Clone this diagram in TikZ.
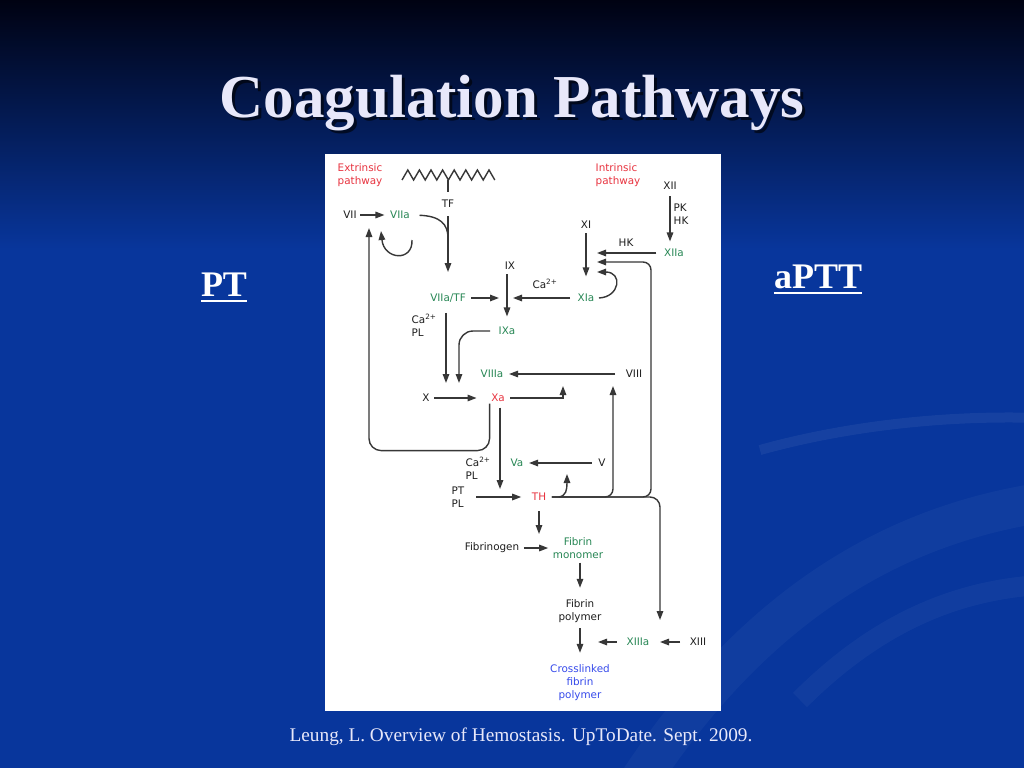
\documentclass[tikz,border=0pt]{standalone}
\usepackage{fontspec}
\setmainfont{Liberation Serif}
\newfontfamily\chartfont{DejaVu Sans}
\usetikzlibrary{arrows.meta}

\definecolor{slidetop}{RGB}{0,2,18}
\definecolor{slideblue}{RGB}{8,54,156}
\definecolor{titlewhite}{RGB}{232,232,250}
\definecolor{actgreen}{RGB}{40,135,85}
\definecolor{keyred}{RGB}{232,52,64}
\definecolor{endblue}{RGB}{55,75,235}
\definecolor{linegray}{RGB}{55,55,55}
\definecolor{labelblack}{RGB}{30,30,30}

\tikzset{
  lbl/.style={font=\chartfont\fontsize{10.4}{13}\selectfont, inner sep=1.5pt, align=center, text=labelblack},
  act/.style={lbl, text=actgreen},
  key/.style={lbl, text=keyred},
  arr/.style={draw=linegray, line width=1.4pt, -{Triangle[length=9pt,width=6.5pt]}},
  ln/.style={draw=linegray, line width=1.4pt},
  slidehead/.style={font=\fontsize{36}{40}\selectfont\bfseries, text=white, anchor=base, inner sep=0pt}
}

\begin{document}
\begin{tikzpicture}[x=1pt,y=-1pt]
    \useasboundingbox (0,0) rectangle (1024,768);

    % slide background
    \shade[top color=slidetop, bottom color=slideblue] (0,0) rectangle (1024,250);
    \fill[slideblue] (0,250) rectangle (1024,768);
    \draw[white, opacity=0.035, line width=40pt] (640,780) .. controls (760,600) and (900,520) .. (1060,500);
    \draw[white, opacity=0.06, line width=10pt] (760,450) .. controls (850,425) and (950,415) .. (1040,418);
    \draw[white, opacity=0.04, line width=20pt] (800,700) .. controls (880,620) and (960,590) .. (1040,585);

    \node[font=\fontsize{61}{70}\selectfont\bfseries, text=black, opacity=0.6, anchor=base] (titleshade) at (515,120) {Coagulation Pathways};
    \node[font=\fontsize{61}{70}\selectfont\bfseries, text=titlewhite, anchor=base] (title) at (512,117) {Coagulation Pathways};

    \node[slidehead] (pt) at (224,296) {PT};
    \draw[white, line width=2pt] ([yshift=-5pt]pt.base west) -- ([yshift=-5pt]pt.base east);
    \node[slidehead] (aptt) at (818,288) {aPTT};
    \draw[white, line width=2pt] ([yshift=-5pt]aptt.base west) -- ([yshift=-5pt]aptt.base east);

    \node[font=\fontsize{19.3}{22}\selectfont, text=titlewhite, anchor=base] (source) at (521,741) {Leung, L. Overview of Hemostasis. UpToDate. Sept. 2009.};

    % figure panel
    \fill[white] (325,154) rectangle (721,711);

    \node[key, align=left, anchor=west] (extr) at (336,175.5) {Extrinsic\\pathway};
    \node[key, align=left, anchor=west] (intr) at (594,175.5) {Intrinsic\\pathway};
    \node[lbl] (tf) at (448,204) {TF};
    \node[lbl] (vii) at (350,215) {VII};
    \node[act] (viia) at (400,215) {VIIa};
    \node[lbl] (ix) at (510,266) {IX};
    \node[act] (viiatf) at (448,298) {VIIa/TF};
    \node[lbl] (ca1) at (545,284) {Ca\textsuperscript{2+}};
    \node[act] (xia) at (586,298) {XIa};
    \node[lbl] (xi) at (586,225) {XI};
    \node[lbl] (xii) at (670,186) {XII};
    \node[lbl, align=left, anchor=west] (pkhk) at (672,214) {PK\\HK};
    \node[act] (xiia) at (674,253) {XIIa};
    \node[lbl] (hk) at (626,243) {HK};
    \node[lbl, align=left, anchor=west] (capl1) at (410,325) {Ca\textsuperscript{2+}\\PL};
    \node[act] (ixa) at (507,331) {IXa};
    \node[act] (viiia) at (492,374) {VIIIa};
    \node[lbl] (viii) at (634,374) {VIII};
    \node[lbl] (x) at (426,398) {X};
    \node[key] (xa) at (498,398) {Xa};
    \node[lbl, align=left, anchor=west] (capl2) at (464,468.5) {Ca\textsuperscript{2+}\\PL};
    \node[act] (va) at (517,463) {Va};
    \node[lbl] (v) at (602,463) {V};
    \node[lbl, align=left, anchor=west] (ptpl) at (450,497.5) {PT\\PL};
    \node[key] (th) at (539,497) {TH};
    \node[lbl] (fibrinogen) at (492,548) {Fibrinogen};
    \node[act] (fibmono) at (578,548.5) {Fibrin\\monomer};
    \node[lbl] (fibpoly) at (580,611) {Fibrin\\polymer};
    \node[act] (xiiia) at (638,642) {XIIIa};
    \node[lbl] (xiii) at (698,642) {XIII};
    \node[lbl, text=endblue] (cross) at (580,682.5) {Crosslinked\\fibrin\\polymer};

    \coordinate (memb) at (448,180);
    \coordinate (tfjoin) at (448,238);
    \coordinate (viialoop) at (412,240);
    \coordinate (viiaup) at (381,231);
    \coordinate (viiup) at (369,228);
    \coordinate (ixj) at (507,298);
    \coordinate (xij1) at (586,253);
    \coordinate (xij2) at (586,262);
    \coordinate (xij3) at (597,272);
    \coordinate (xj1) at (446,398);
    \coordinate (xj2) at (459,398);
    \coordinate (viiij1) at (563,374);
    \coordinate (viiij2) at (613,374);
    \coordinate (thloop) at (567,474);
    \coordinate (thj) at (500,497);
    \coordinate (crossj) at (580,642);
    \coordinate (xiiij) at (660,642);

    % membrane
    \draw[ln, line join=miter] (402,180) \foreach \k in {1,...,8} { -- ++(5.8,-10) -- ++(5.8,10) };
    \draw[ln, shorten >=7pt] (memb) -- (tf.north);

    % extrinsic
    \draw[arr, shorten <=2pt, shorten >=4pt] (vii) -- (viia);
    \draw[arr, shorten <=7pt, shorten >=20pt] (tf) -- (viiatf);
    \draw[ln, shorten <=8pt] (viia.east) .. controls (440,216) and (448,224) .. (tfjoin);
    \draw[arr] (viialoop) .. controls (413,262) and (384,260) .. (viiaup);
    \draw[arr, rounded corners=12pt] (xa.south west) -- ++(0,47) -| (viiup);
    \draw[arr, shorten <=4pt, shorten >=8pt] (viiatf) -- (ixj);
    \draw[arr, shorten <=9pt, shorten >=15pt] (viiatf.south -| xj1) -- (xj1);

    % intrinsic
    \draw[arr, shorten <=5pt, shorten >=6pt] (xii) -- (xii |- xiia.north);
    \draw[arr, shorten <=6pt, shorten >=11pt] (xiia) -- (xij1);
    \draw[arr, shorten <=3pt, shorten >=16pt] (xi) -- (xia);
    \draw[arr] ([xshift=3pt]xia.east) .. controls (620,297) and (623,272) .. (xij3);
    \draw[arr, shorten <=6pt, shorten >=6pt] (xia) -- (ixj);
    \draw[arr, shorten <=3pt, shorten >=9pt] (ix.south -| ixj) -- (ixj |- ixa.north);
    \draw[arr, rounded corners=14pt, shorten <=7pt, shorten >=15pt] (ixa.west) -| (xj2);
    \draw[arr, shorten <=9pt, shorten >=4pt] (viii) -- (viiia);

    % common
    \draw[arr, shorten <=3pt, shorten >=13pt] (x) -- (xa);
    \draw[arr, shorten <=4pt, shorten >=12pt] (xa.east) -| (viiij1);
    \draw[arr, shorten <=4pt, shorten >=8pt] (xa.south -| thj) -- (thj);
    \draw[arr, shorten <=5pt, shorten >=4pt] (v) -- (va);
    \draw[arr, shorten <=10pt, shorten >=9pt] (ptpl.east |- th) -- (th);
    \draw[arr] ([xshift=11pt]th.east) .. controls (566,496) and (567,490) .. (thloop);
    \draw[arr, rounded corners=8pt, shorten <=4pt, shorten >=12pt] (th.east) -| (viiij2);
    \draw[arr, rounded corners=8pt, shorten <=4pt, shorten >=11pt] (th.east) -| (651,262) -- (xij2);
    \draw[arr, rounded corners=10pt, shorten <=4pt, shorten >=22pt] (th.east) -| (xiiij);

    % fibrin
    \draw[arr, shorten <=9pt, shorten >=14pt] (th) -- (th |- fibrinogen);
    \draw[arr, shorten <=3pt, shorten >=3pt] (fibrinogen) -- (fibrinogen -| fibmono.west);
    \draw[arr, shorten <=2pt, shorten >=10pt] (fibmono.south -| fibpoly) -- (fibpoly);
    \draw[arr, shorten <=4pt, shorten >=10pt] (fibpoly) -- (cross);
    \draw[arr, shorten <=8pt] (xiii) -- (xiiij);
    \draw[arr, shorten <=8pt, shorten >=18pt] (xiiia) -- (crossj);

\end{tikzpicture}
\end{document}
